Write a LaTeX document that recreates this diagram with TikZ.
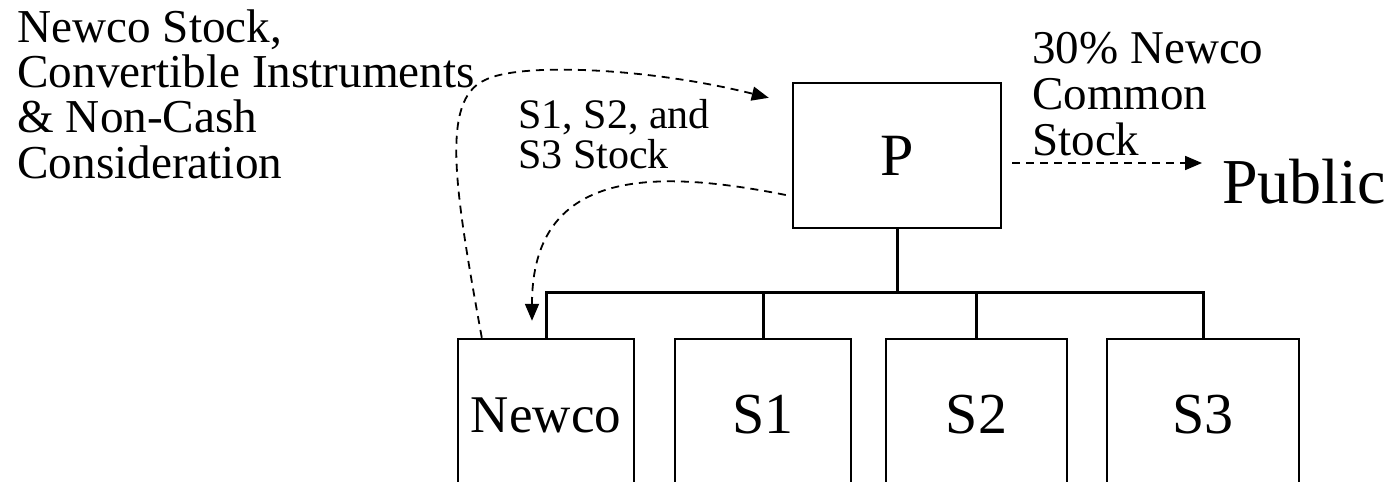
\documentclass[tikz,border=0pt]{standalone}
\usepackage{fontspec}
\setmainfont{Liberation Serif}
\usetikzlibrary{arrows.meta,calc}

\tikzset{
  entity/.style={draw, line width=1.2pt, inner sep=0pt},
  note/.style={anchor=base west, align=left, inner sep=0pt},
  flow/.style={dash pattern=on 4pt off 3pt, line width=0.9pt,
               -{Triangle[length=8.5pt,width=7pt]}},
  tree/.style={line width=1.5pt},
}

\begin{document}
\begin{tikzpicture}[x=0.5pt,y=-0.5pt]
\useasboundingbox (0,0) rectangle (1389,482);
\clip (0,0) rectangle (1389,482);
% parent and its subsidiaries
\node[entity, minimum width=104pt, minimum height=72.5pt, font=\fontsize{30}{30}\selectfont] (p) at (897,155.5) {P};
\node[entity, minimum width=88pt, minimum height=76pt, font=\fontsize{26.5}{26.5}\selectfont] (newco) at (546,415) {Newco};
\node[entity, minimum width=88pt, minimum height=76pt, font=\fontsize{29}{29}\selectfont] (s1) at (763,415) {S1};
\node[entity, minimum width=90.5pt, minimum height=76pt, font=\fontsize{29}{29}\selectfont] (s2) at (976.5,415) {S2};
\node[entity, minimum width=96pt, minimum height=76pt, font=\fontsize{29}{29}\selectfont] (s3) at (1203,415) {S3};
% labels (anchored at the last baseline)
\node[note, font=\fontsize{23.6}{22.6}\selectfont] (cons) at (17,178) {Newco Stock,\\Convertible Instruments\\\& Non-Cash\\Consideration};
\node[note, font=\fontsize{21}{20}\selectfont] (subs) at (518,168) {S1, S2, and\\S3 Stock};
\node[note, font=\fontsize{23.5}{23}\selectfont] (pct) at (1032,155) {30\% Newco\\Common\\Stock};
\node[note, font=\fontsize{32}{32}\selectfont] (pub) at (1222,203) {Public};
% ownership lines
\coordinate (bus) at ($(p.south)+(0,63)$);
\draw[tree] (p.south) -- (bus);
\draw[tree] (newco.north) |- (bus) -| (s3.north);
\draw[tree] (s1.north) -- (s1.north |- bus);
\draw[tree] (s2.north) -- (s2.north |- bus);
% transfers
\draw[flow] ($(newco.north west)+(25,0)$) .. controls (455,190) and (440,100) .. (485,80)
            .. controls (520,62) and (650,68) .. ($(p.north west)+(-23,16)$);
\draw[flow] ($(p.west)+(-6,39.5)$) .. controls (650,168) and (532,170) .. ($(newco.north)+(-14,-17)$);
\draw[flow] ($(p.east)+(10,7.5)$) -- ($(pub.base west)+(-20,-40)$);
\end{tikzpicture}
\end{document}
